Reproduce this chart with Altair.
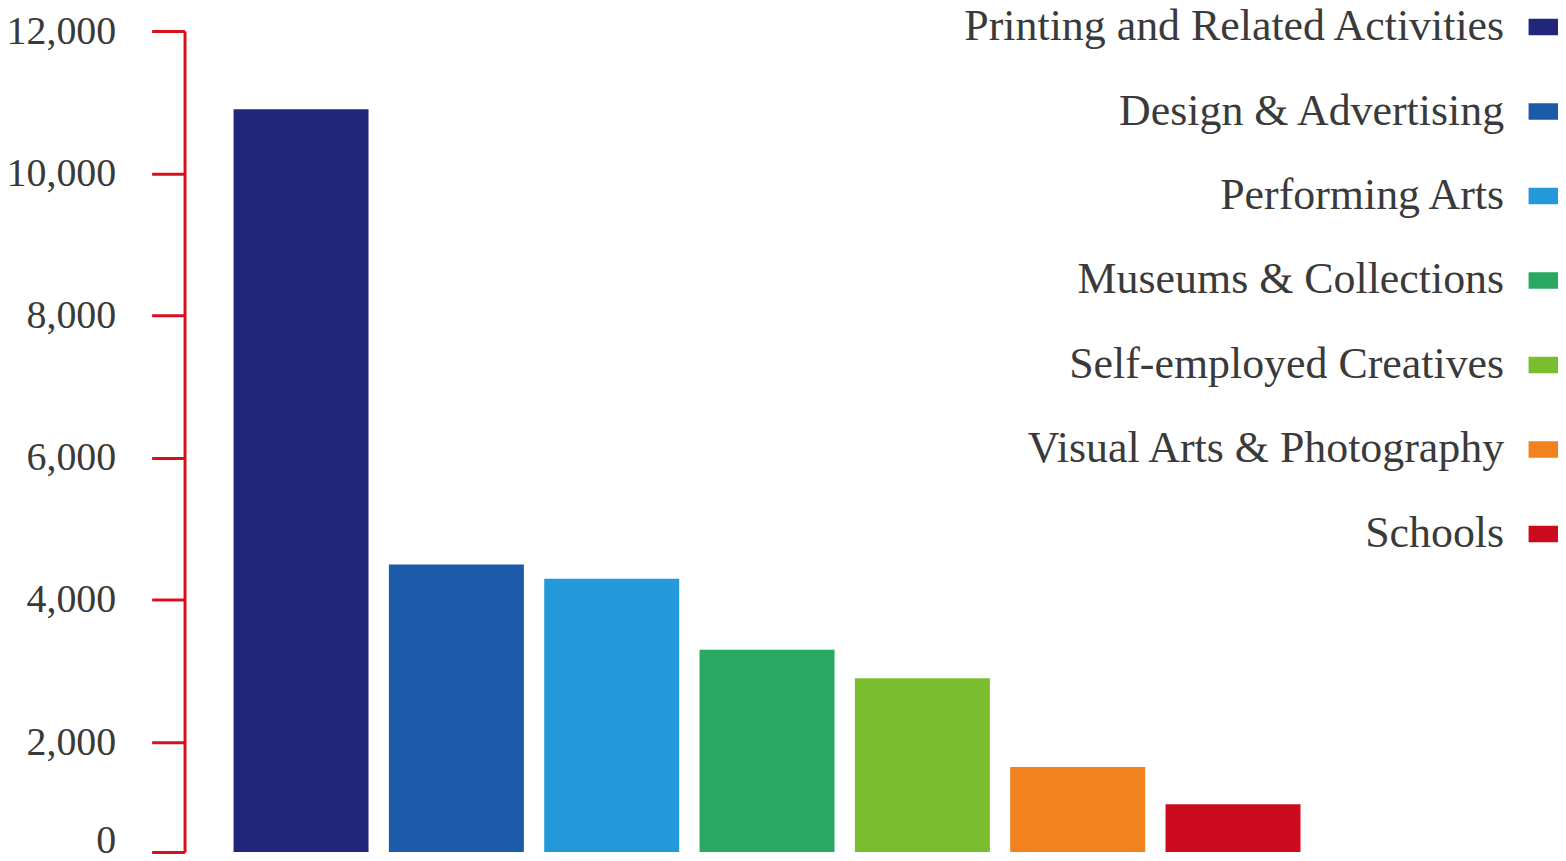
import altair as alt
import pandas as pd

categories = [
    "Printing and Related Activities",
    "Design & Advertising",
    "Performing Arts",
    "Museums & Collections",
    "Self-employed Creatives",
    "Visual Arts & Photography",
    "Schools",
]
values = [10900, 4500, 4300, 3300, 2900, 1550, 870]
colors = ["#22267b", "#1b5baa", "#2499da", "#28a862", "#7abd2f", "#f1821e", "#cc0a1e"]
y_ticks = [0, 2000, 4000, 6000, 8000, 10000, 12000]

df = pd.DataFrame({"sector": categories, "value": values})

W = 1168
H = 823
FONT = "Liberation Serif"
TEXT = "#3a3a3a"
RED = "#d7101e"

chart = (
    alt.Chart(df)
    .mark_bar()
    .encode(
        x=alt.X(
            "sector:N",
            sort=categories,
            axis=None,
            scale=alt.Scale(paddingInner=0.131, paddingOuter=0.3155),
        ),
        y=alt.Y(
            "value:Q",
            scale=alt.Scale(domain=[0, 2000, 12000], range=[H, H - 110, 0], nice=False),
            axis=alt.Axis(
                values=y_ticks,
                format=",d",
                title=None,
                grid=False,
                domainColor=RED,
                domainWidth=3,
                tickColor=RED,
                tickWidth=3,
                tickSize=33,
                labelPadding=36,
                labelFont=FONT,
                labelFontSize=40,
                labelColor=TEXT,
                labelOffset={"condition": {"test": "datum.value === 0", "value": -11}, "value": 0},
            ),
        ),
        color=alt.Color(
            "sector:N",
            sort=categories,
            scale=alt.Scale(domain=categories, range=colors),
            legend=alt.Legend(
                title=None,
                orient="none",
                legendX=1342,
                legendY=-26,
                padding=0,
                symbolType="M-1,-0.5H1V0.5H-1Z",
                symbolSize=1089,
                symbolStrokeWidth=0,
                symbolOpacity=1,
                labelAlign="right",
                labelOffset={"expr": "-63"},
                labelFont=FONT,
                labelFontSize=44,
                labelColor=TEXT,
                labelLimit=900,
                rowPadding=40.7,
            ),
        ),
    )
    .properties(
        width=W,
        height=H,
        autosize="none",
        background="white",
        padding={"left": 177, "top": 22, "right": 209, "bottom": 8},
    )
    .configure_view(stroke=None, strokeWidth=0)
)

chart.save("out.html", embed_options={"renderer": "svg", "actions": False})
